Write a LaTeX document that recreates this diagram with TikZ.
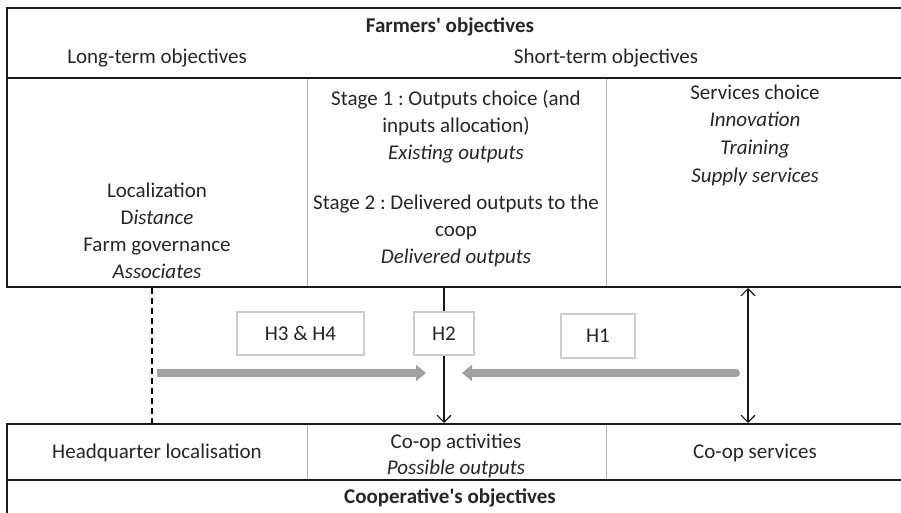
\documentclass[tikz,border=0pt]{standalone}
\usepackage{fontspec}
\setmainfont{Carlito}
\usetikzlibrary{arrows.meta}
\frenchspacing
\newcommand\sqap{\XeTeXglyph\XeTeXcharglyph"0027\relax}
\definecolor{txt}{HTML}{262626}
\definecolor{sepgray}{HTML}{B4B4B4}
\definecolor{boxgray}{HTML}{CCCCCC}
\definecolor{arrgray}{HTML}{A0A0A0}
\tikzset{
  lbl/.style={font=\fontsize{21}{27}\selectfont, text=txt, align=center, inner sep=0pt},
  rule/.style={line width=2pt, draw=black!90},
  sep/.style={line width=1pt, draw=sepgray},
  hbox/.style={lbl, draw=boxgray, line width=1.2pt, fill=white},
  link/.style={line width=1.1pt, draw=black!90, -{Straight Barb[length=7pt,width=14pt,line width=1.1pt]}},
  bilink/.style={line width=1.1pt, draw=black!90, {Straight Barb[length=7pt,width=14pt,line width=1.1pt]}-{Straight Barb[length=7pt,width=14pt,line width=1.1pt]}},
  fat/.style={line width=8pt, draw=arrgray, -{Triangle[length=10pt,width=16pt]}}
}
\begin{document}
\begin{tikzpicture}[x=1pt,y=-1pt]
\useasboundingbox (0,0) rectangle (901,513);
% farmers' block rules
\draw[rule] (7,8) -- (901,8);
\draw[rule] (7,78) -- (901,78);
\draw[rule] (7,287) -- (901,287);
\draw[rule] (7,7) -- (7,288);
\draw[sep] (307,79) -- (307,286);
\draw[sep] (606,79) -- (606,286);
% cooperative block rules
\draw[rule] (7,424) -- (901,424);
\draw[rule] (7,480) -- (901,480);
\draw[rule] (7,423) -- (7,513);
\draw[sep] (307,425) -- (307,479);
\draw[sep] (606,425) -- (606,479);
% texts
\node[lbl, font=\fontsize{21}{27}\selectfont\bfseries] (fobj) at (450,27) {Farmers\sqap{} objectives};
\node[lbl] (lto) at (157,58) {Long-term objectives};
\node[lbl] (sto) at (606,58) {Short-term objectives};
\node[lbl] (loc) at (157,231) {Localization\\D\textit{istance}\\Farm governance\\\textit{Associates}};
\node[lbl] (st1) at (456,127) {Stage 1 : Outputs choice (and\\inputs allocation)\\\textit{Existing outputs}};
\node[lbl] (st2) at (456,231) {Stage 2 : Delivered outputs to the\\coop\\\textit{Delivered outputs}};
\node[lbl, font=\fontsize{21}{27.7}\selectfont] (serv) at (755,135) {Services choice\\\textit{Innovation}\\\textit{Training}\\\textit{Supply services}};
\node[lbl] (hq) at (157,453) {Headquarter localisation};
\node[lbl, font=\fontsize{21}{26}\selectfont] (act) at (456,456) {Co-op activities\\\textit{Possible outputs}};
\node[lbl] (csv) at (755,453) {Co-op services};
\node[lbl, font=\fontsize{21}{27}\selectfont\bfseries] (cobj) at (450,498) {Cooperative\sqap{}s objectives};
% connector endpoints
\coordinate (dTop) at (152,288);
\coordinate (dBot) at (152,424);
\coordinate (aTop) at (444,288);
\coordinate (aBot) at (444,423);
\coordinate (bTop) at (748,288);
\coordinate (bBot) at (748,423);
\coordinate (r1) at (157,373);
\coordinate (r2) at (426,373);
\coordinate (l1) at (736,373);
\coordinate (l2) at (462,373);
% connectors
\draw[line width=1.1pt, dash pattern=on 6pt off 4pt] (dTop) -- (dBot);
\draw[link] (aTop) -- (aBot);
\draw[bilink] (bTop) -- (bBot);
\draw[fat] (r1) -- (r2);
\draw[fat, line cap=round] (l1) -- (l2);
% hypothesis boxes
\node[hbox, minimum width=127pt, minimum height=43pt] (h34) at (300.5,333.5) {H3 \& H4};
\node[hbox, minimum width=60pt, minimum height=43pt] (h2) at (444,333.5) {H2};
\node[hbox, minimum width=74pt, minimum height=44pt] (h1) at (598,336) {H1};
\end{tikzpicture}
\end{document}
